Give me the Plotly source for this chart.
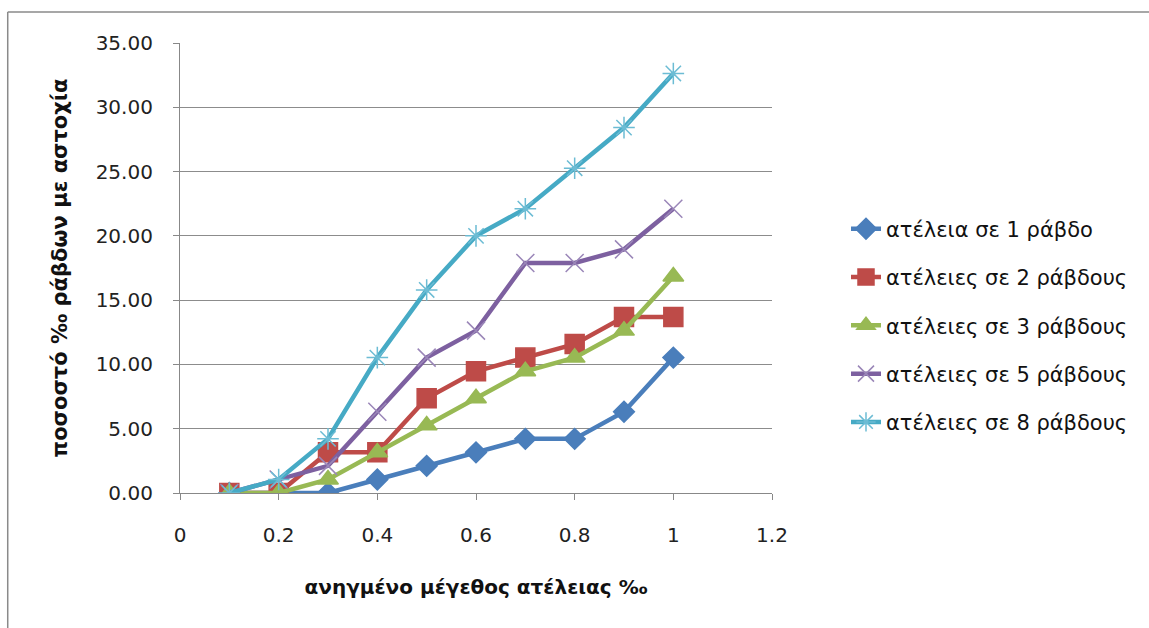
import plotly.graph_objects as go

x_vals = [0.1, 0.2, 0.3, 0.4, 0.5, 0.6, 0.7, 0.8, 0.9, 1.0]
s1 = [0.00, 0.00, 0.00, 1.05, 2.11, 3.16, 4.21, 4.21, 6.32, 10.53]
s2 = [0.00, 0.00, 3.16, 3.16, 7.37, 9.47, 10.53, 11.58, 13.68, 13.68]
s3 = [0.00, 0.00, 1.05, 3.16, 5.26, 7.37, 9.47, 10.53, 12.63, 16.84]
s5 = [0.00, 1.05, 2.11, 6.32, 10.53, 12.63, 17.89, 17.89, 18.95, 22.11]
s8 = [0.00, 1.05, 4.21, 10.53, 15.79, 20.00, 22.11, 25.26, 28.42, 32.63]

names = ["ατέλεια σε 1 ράβδο", "ατέλειες σε 2 ράβδους", "ατέλειες σε 3 ράβδους",
         "ατέλειες σε 5 ράβδους", "ατέλειες σε 8 ράβδους"]
series = [s1, s2, s3, s5, s8]
colors = ["#4a7ebb", "#be4b48", "#98b954", "#7d60a0", "#46aac5"]
marker_colors = ["#4a7ebb", "#be4b48", "#98b954", "#9a86b8", "#6cbcd4"]
symbols = ["diamond", "square", "triangle-up", "x-thin", "asterisk"]
sizes = [16, 19, 18, 18, 18]

y_ticks = [0, 5, 10, 15, 20, 25, 30, 35]
x_ticks = [0, 0.2, 0.4, 0.6, 0.8, 1.0, 1.2]
x_ticktext = ["0", "0.2", "0.4", "0.6", "0.8", "1", "1.2"]

FONT = "DejaVu Sans"

fig = go.Figure()
for i, (nm, ys, c, mc, sym, sz) in enumerate(zip(names, series, colors, marker_colors, symbols, sizes)):
    fig.add_trace(go.Scatter(
        x=x_vals, y=ys, name=nm, mode="lines+markers",
        line=dict(color=c, width=4.5),
        marker=dict(symbol=sym, size=sz, color=mc,
                    line=dict(color=mc, width=1.5)),
        legendgroup=f"g{i}",
    ))

fig.update_layout(
    width=1149, height=628,
    paper_bgcolor="white", plot_bgcolor="white",
    margin=dict(l=180, r=377, t=43, b=135),
    font=dict(family=FONT, size=20, color="#222"),
    showlegend=True,
    legend=dict(x=1.125, y=0.372, xanchor="left", yanchor="middle",
                tracegroupgap=18, font=dict(size=21, family=FONT, color="#111"),
                bgcolor="rgba(0,0,0,0)"),
    xaxis=dict(range=[0, 1.2], tickvals=x_ticks, ticktext=x_ticktext,
               showgrid=False, zeroline=False, showline=True,
               linecolor="#888", linewidth=1.2, ticks="outside",
               ticklen=6, tickcolor="#888", ticklabelstandoff=18,
               title=dict(text="<b>ανηγμένο μέγεθος ατέλειας ‰</b>",
                          font=dict(size=20, family=FONT, color="#111"), standoff=33)),
    yaxis=dict(range=[0, 35], tickvals=y_ticks, tickformat=".2f",
               showgrid=True, gridcolor="#8c8c8c", gridwidth=1,
               zeroline=False, showline=True, linecolor="#888", linewidth=1.2,
               ticks="outside", ticklen=6, tickcolor="#888", ticklabelstandoff=16,
               title=dict(text="<b>ποσοστό ‰ ράβδων με αστοχία</b>",
                          font=dict(size=21, family=FONT, color="#111"), standoff=22)),
)

# outer chart frame (top and left edges visible in the reference)
fig.add_shape(type="line", xref="paper", yref="paper",
              x0=-0.291, x1=2.0, y0=1.069, y1=1.069,
              line=dict(color="#8a8a8a", width=1.5), layer="below")
fig.add_shape(type="line", xref="paper", yref="paper",
              x0=-0.291, x1=-0.291, y0=-1.0, y1=1.069,
              line=dict(color="#8a8a8a", width=1.5), layer="below")

fig.write_html(
    "out.html",
    config={"displayModeBar": False},
    post_script="document.body.style.margin='0';document.body.style.overflow='hidden';",
)
